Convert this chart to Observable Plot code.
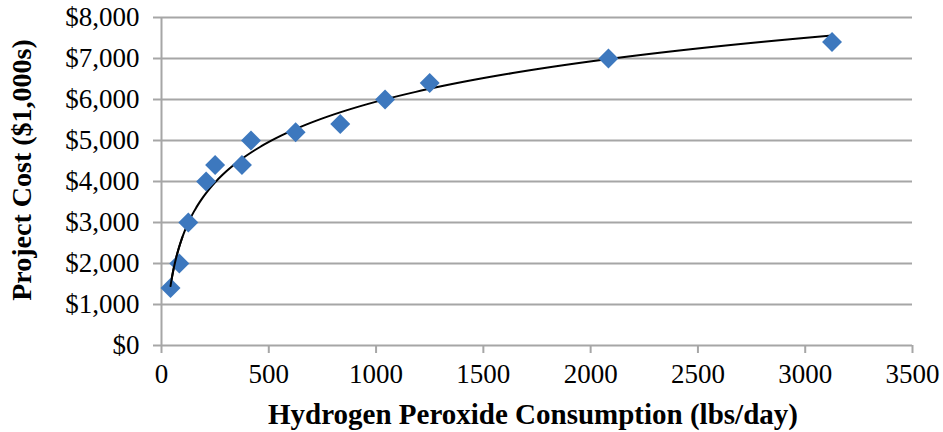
<!DOCTYPE html>
<html>
<head>
<meta charset="utf-8">
<script src="https://cdn.jsdelivr.net/npm/d3@7"></script>
<script src="https://cdn.jsdelivr.net/npm/@observablehq/plot@0.6"></script>
<style>
  html, body { margin: 0; padding: 0; background: #fff; }
  #chart { width: 943px; height: 432px; }
</style>
</head>
<body>
<div id="chart"></div>
<script>
// Data
const consumption = [42, 83, 125, 208, 250, 375, 417, 625, 833, 1042, 1250, 2083, 3125]; // lbs/day
const projectCost = [1400, 2000, 3000, 4000, 4400, 4400, 5000, 5200, 5400, 6000, 6400, 7000, 7400]; // $1,000s
const xTicks = [0, 500, 1000, 1500, 2000, 2500, 3000, 3500];
const yTicks = [0, 1000, 2000, 3000, 4000, 5000, 6000, 7000, 8000];
const xTitle = "Hydrogen Peroxide Consumption (lbs/day)";
const yTitle = "Project Cost ($1,000s)";

const points = consumption.map((x, i) => ({x, y: projectCost[i]}));

// Logarithmic trendline (least squares on ln x), like the spreadsheet trendline
const lx = consumption.map(Math.log);
const mlx = d3.mean(lx), my = d3.mean(projectCost);
const slope = d3.sum(lx, (v, i) => (v - mlx) * (projectCost[i] - my)) / d3.sum(lx, v => (v - mlx) ** 2);
const intercept = my - slope * mlx;
const xMin = d3.min(consumption), xMax = d3.max(consumption);
const trend = d3.range(0, 201).map(i => {
  const x = Math.exp(Math.log(xMin) + (Math.log(xMax) - Math.log(xMin)) * i / 200);
  return {x, y: slope * Math.log(x) + intercept};
});

const font = "Liberation Serif, Times New Roman, serif";
const gridColor = "#a6a6a6";

const chart = Plot.plot({
  width: 943,
  height: 432,
  marginLeft: 161,
  marginRight: 31,
  marginTop: 17,
  marginBottom: 87,
  style: {fontFamily: font, fontSize: "27px", color: "#000", background: "#fff"},
  x: {domain: [0, 3500], ticks: xTicks},
  y: {domain: [0, 8000], ticks: yTicks},
  marks: [
    Plot.gridY(yTicks, {stroke: gridColor, strokeOpacity: 1, strokeWidth: 2}),
    Plot.ruleX([0], {stroke: gridColor, strokeWidth: 2}),
    Plot.axisY(yTicks, {tickSize: 8, tickPadding: 14, stroke: gridColor, strokeWidth: 2, strokeOpacity: 1,
      tickFormat: d3.format("$,"), label: null, fontSize: 27}),
    Plot.axisX(xTicks, {tickSize: 8, tickPadding: 10, stroke: gridColor, strokeWidth: 2, strokeOpacity: 1,
      tickFormat: d => String(d), label: null, fontSize: 27}),
    Plot.line(trend, {x: "x", y: "y", stroke: "#000", strokeWidth: 2}),
    Plot.dot(points, {x: "x", y: "y", symbol: "diamond2", r: 9, fill: "#3d78be", stroke: "none"}),
    Plot.line(trend.slice(0, 40), {x: "x", y: "y", stroke: "#000", strokeWidth: 2})
  ]
});

// Axis titles
const svg = d3.select(chart);
svg.append("text")
  .attr("x", 533)
  .attr("y", 424)
  .attr("text-anchor", "middle")
  .attr("font-family", font)
  .attr("font-weight", "bold")
  .attr("font-size", 29)
  .text(xTitle);
svg.append("text")
  .attr("transform", `translate(31, 170) rotate(-90)`)
  .attr("text-anchor", "middle")
  .attr("font-family", font)
  .attr("font-weight", "bold")
  .attr("font-size", 28)
  .text(yTitle);

document.getElementById("chart").appendChild(chart);
</script>
</body>
</html>
